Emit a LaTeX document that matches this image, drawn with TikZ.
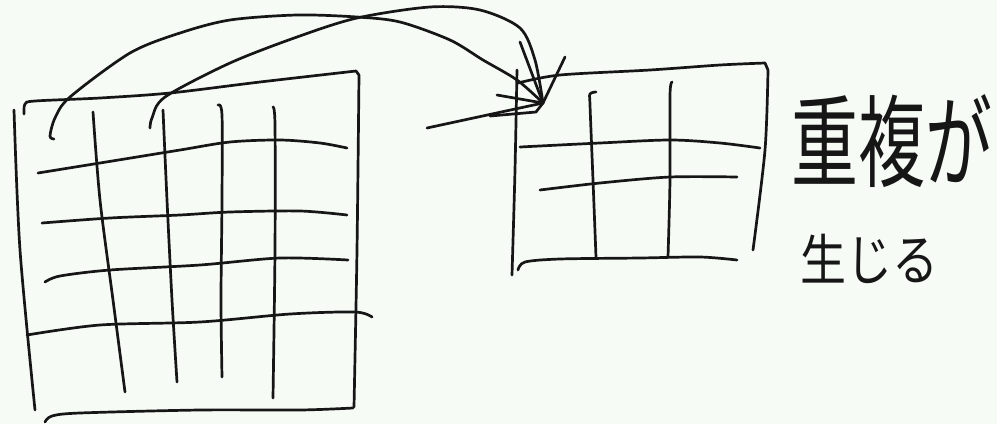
\documentclass[tikz,border=0pt]{standalone}
\usepackage{fontspec}
\newfontfamily\cjk{Noto Sans CJK JP}
\definecolor{bgc}{RGB}{246,251,246}
\definecolor{ink}{RGB}{22,22,22}
\begin{document}
\begin{tikzpicture}[x=1pt,y=-1pt,
  pen/.style={draw=ink,line width=2.7pt,line cap=round,line join=round},
  txt/.style={text=ink,inner sep=0pt}]
\fill[bgc] (0,0) rectangle (997,424);
\path[use as bounding box] (0,0) rectangle (997,424);
% left grid borders
\draw[pen] plot[smooth] coordinates {(14,110) (20,250) (35,410)};
\draw[pen] plot[smooth] coordinates {(24,114) (25,104) (35,101) (100,98) (170,93) (260,82) (356,71)} -- (359,75)
  plot[smooth] coordinates {(359,75) (357,250) (354,407)};
\draw[pen] plot[smooth] coordinates {(45,422) (52,416) (80,413) (200,410) (300,410) (353,408)};
% left grid verticals
\draw[pen] plot[smooth] coordinates {(93,112) (100,200) (113,300) (125,392)};
\draw[pen] plot[smooth] coordinates {(163,110) (167,200) (172,300) (177,382)};
\draw[pen] plot[smooth] coordinates {(218,105) (222,115) (222,200) (221,300) (222,377)};
\draw[pen] plot[smooth] coordinates {(273,107) (275,125) (275,250) (273,398)};
% left grid horizontals
\draw[pen] plot[smooth] coordinates {(38,173) (100,163) (180,150) (230,142) (280,140) (320,143) (347,148)};
\draw[pen] plot[smooth] coordinates {(42,223) (110,218) (180,215) (230,212) (300,211) (347,215)};
\draw[pen] plot[smooth] coordinates {(45,282) (60,276) (110,270) (200,265) (280,258) (348,260)};
\draw[pen] plot[smooth] coordinates {(27,335) (100,325) (200,322) (290,314) (355,312) (372,317)};
% right grid
\draw[pen] plot[smooth] coordinates {(517,70) (515,170) (512,275)};
\draw[pen] plot[smooth] coordinates {(518,83) (560,75) (650,70) (720,65) (765,63)} -- (768,70)
  plot[smooth] coordinates {(768,70) (765,150) (753,250)};
\draw[pen] plot[smooth] coordinates {(520,147) (600,143) (670,140) (720,143) (760,148)};
\draw[pen] plot[smooth] coordinates {(540,190) (600,183) (670,177) (737,177)};
\draw[pen] plot[smooth] coordinates {(518,270) (525,262) (560,259) (640,258) (700,257) (737,260)};
\draw[pen] plot[smooth] coordinates {(596,92) (590,94) (590,105) (593,180) (596,257)};
\draw[pen] plot[smooth] coordinates {(672,82) (670,95) (670,180) (668,257)};
% arrows
\coordinate (tip) at (543,103);
\coordinate (s1) at (50,136);
\coordinate (s2) at (150,128);
\coordinate (s3) at (427,128);
\coordinate (h1) at (520,42);
\coordinate (h2) at (565,57);
\coordinate (h3) at (497,95);
\draw[pen] plot[smooth] coordinates {(54,139) (s1) (55,118) (70,97) (130,53) (180,33) (230,20) (297,15) (357,17) (400,22) (450,40) (483,60) (517,80) (tip)};
\draw[pen] plot[smooth] coordinates {(s2) (152,118) (165,97) (230,63) (297,37) (357,18) (430,7) (480,10) (520,28) (535,60) (tip)};
\draw[pen] (s3) -- (tip);
\draw[pen] (490,116) -- (536,112) -- (tip);
\draw[pen] (h1) -- (tip);
\draw[pen] (h2) -- (tip);
\draw[pen] (h3) -- (tip);
% text
\node[txt,yscale=1.5] (t1) at (892,141) {\cjk\fontsize{67}{67}\selectfont 重複が};
\node[txt,yscale=1.2] (t2) at (869,259) {\cjk\fontsize{46}{46}\selectfont 生じる};
\end{tikzpicture}
\end{document}
